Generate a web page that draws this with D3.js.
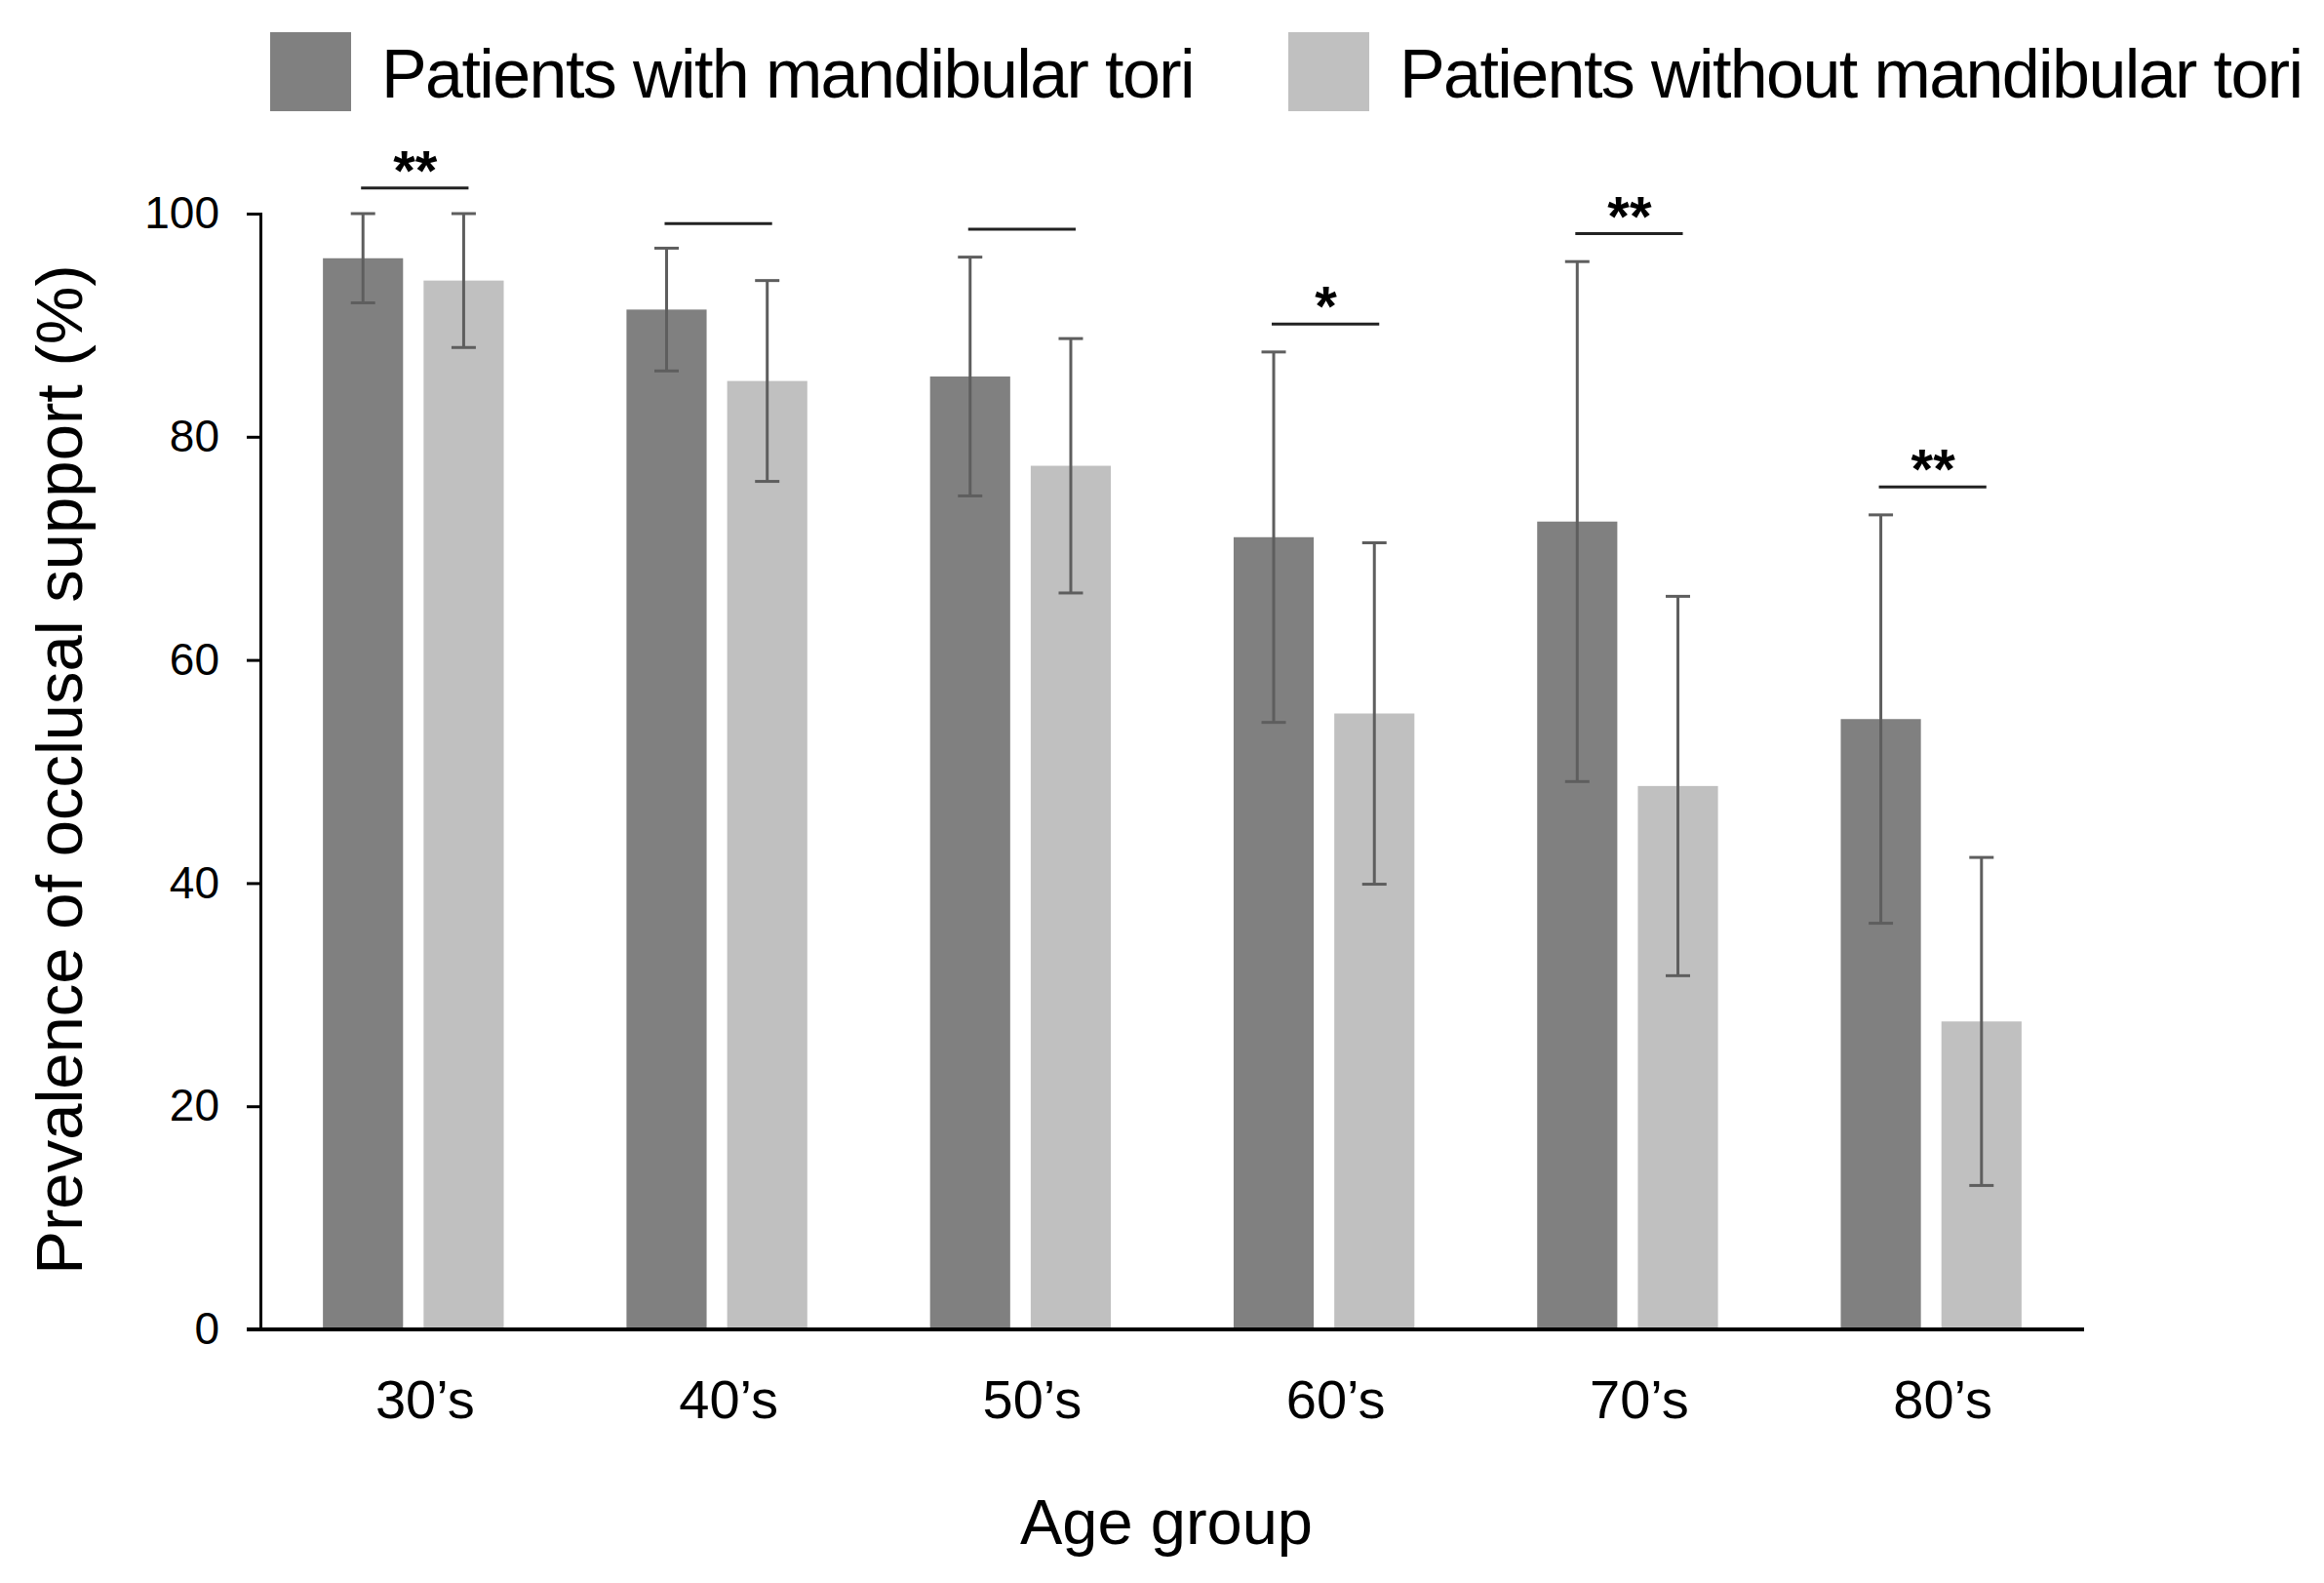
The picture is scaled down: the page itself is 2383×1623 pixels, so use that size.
<!DOCTYPE html>
<html>
<head>
<meta charset="utf-8">
<script src="https://cdn.jsdelivr.net/npm/d3@7/dist/d3.min.js"></script>
<style>
  html, body { margin: 0; padding: 0; background: #fff; }
  svg text { font-family: "Liberation Sans", Arial, Helvetica, sans-serif; fill: #000; }
</style>
</head>
<body>
<svg id="chart" width="2383" height="1623"></svg>
<script>
// age groups and series
const ageGroups = ["30\u2019s", "40\u2019s", "50\u2019s", "60\u2019s", "70\u2019s", "80\u2019s"];
const seriesNames = ["Patients with mandibular tori", "Patients without mandibular tori"];
const withTori = [96.0, 91.4, 85.4, 71.0, 72.4, 54.7];
const withToriSd = [4.0, 5.5, 10.7, 16.6, 23.3, 18.3];
const withoutTori = [94.0, 85.0, 77.4, 55.2, 48.7, 27.6];
const withoutToriSd = [6.0, 9.0, 11.4, 15.3, 17.0, 14.7];
const sigLevel = [102.3, 99.1, 98.6, 90.1, 98.2, 75.5];
const sigLabel = ["**", "", "", "*", "**", "**"];
const yTicks = [0, 20, 40, 60, 80, 100];

const colors = ["#808080", "#c0c0c0"];

const svg = d3.select("#chart");

const x = d3.scaleBand()
    .domain(ageGroups)
    .range([267, 2137])
    .paddingInner(0.4044)
    .paddingOuter(0.206),
  xSub = d3.scaleBand()
    .domain([0, 1])
    .range([0, x.bandwidth()])
    .paddingInner(0.204),
  y = d3.scaleLinear().domain([0, 100]).range([1363, 219]);

const rows = ageGroups.map((g, i) => ({
  group: g,
  i,
  values: [
    { s: 0, mean: withTori[i], sd: withToriSd[i] },
    { s: 1, mean: withoutTori[i], sd: withoutToriSd[i] }
  ]
}));

// bars
const groups = svg.append("g")
  .selectAll("g")
  .data(rows)
  .enter()
  .append("g")
  .attr("transform", d => `translate(${x(d.group)},0)`);

groups.selectAll("rect")
  .data(d => d.values)
  .enter()
  .append("rect")
  .attr("x", d => xSub(d.s))
  .attr("y", d => y(d.mean))
  .attr("width", xSub.bandwidth())
  .attr("height", d => y(0) - y(d.mean))
  .attr("fill", d => colors[d.s]);

// error bars
const capW = 25;
const err = groups.selectAll(".err")
  .data(d => d.values)
  .enter()
  .append("g")
  .attr("class", "err")
  .attr("stroke", "#5e5e5e")
  .attr("stroke-width", 3);

err.append("line")
  .attr("x1", d => xSub(d.s) + xSub.bandwidth() / 2)
  .attr("x2", d => xSub(d.s) + xSub.bandwidth() / 2)
  .attr("y1", d => y(d.mean + d.sd))
  .attr("y2", d => y(d.mean - d.sd));

[1, -1].forEach(sign => {
  err.append("line")
    .attr("x1", d => xSub(d.s) + xSub.bandwidth() / 2 - capW / 2)
    .attr("x2", d => xSub(d.s) + xSub.bandwidth() / 2 + capW / 2)
    .attr("y1", d => y(d.mean + sign * d.sd))
    .attr("y2", d => y(d.mean + sign * d.sd));
});

// significance brackets
const c0 = xSub(0) + xSub.bandwidth() / 2,
  c1 = xSub(1) + xSub.bandwidth() / 2;

groups.append("line")
  .attr("x1", c0 - 2)
  .attr("x2", c1 + 5)
  .attr("y1", d => y(sigLevel[d.i]))
  .attr("y2", d => y(sigLevel[d.i]))
  .attr("stroke", "#222")
  .attr("stroke-width", 3);

groups.append("text")
  .attr("x", (c0 + c1) / 2 + 2)
  .attr("y", d => y(sigLevel[d.i]) + 2)
  .attr("text-anchor", "middle")
  .attr("font-size", 58)
  .attr("font-weight", "bold")
  .text(d => sigLabel[d.i]);

// axes
const yAxis = svg.append("g")
  .attr("transform", "translate(267,0)")
  .call(d3.axisLeft(y).tickValues(yTicks).tickSize(14).tickPadding(28));
yAxis.select(".domain").attr("stroke", "#000").attr("stroke-width", 3);
yAxis.selectAll(".tick line").attr("stroke", "#000").attr("stroke-width", 3);
yAxis.selectAll(".tick text")
  .attr("font-size", 46)
  .attr("font-family", "Liberation Sans, Arial, sans-serif");

const xAxis = svg.append("g")
  .attr("transform", `translate(0,${y(0)})`)
  .call(d3.axisBottom(x).tickSize(0).tickPadding(51));
xAxis.select(".domain").attr("stroke", "#000").attr("stroke-width", 4)
  .attr("d", "M253,0H2137");
xAxis.selectAll(".tick text")
  .attr("font-size", 56)
  .attr("dx", 12)
  .attr("font-family", "Liberation Sans, Arial, sans-serif");

// axis titles
svg.append("text")
  .attr("x", 1196)
  .attr("y", 1583)
  .attr("text-anchor", "middle")
  .attr("font-size", 65)
  .text("Age group");

svg.append("text")
  .attr("transform", "translate(84,789) rotate(-90)")
  .attr("text-anchor", "middle")
  .attr("font-size", 67)
  .text("Prevalence of occlusal support (%)");

// legend
const legendX = [277, 1321];
const legend = svg.append("g")
  .selectAll("g")
  .data(seriesNames)
  .enter()
  .append("g")
  .attr("transform", (d, i) => `translate(${legendX[i]},33)`);

legend.append("rect")
  .attr("width", 83)
  .attr("height", 81)
  .attr("fill", (d, i) => colors[i]);

legend.append("text")
  .attr("x", 114)
  .attr("y", 67)
  .attr("font-size", 70)
  .attr("letter-spacing", -1.6)
  .text(d => d);
</script>
</body>
</html>
